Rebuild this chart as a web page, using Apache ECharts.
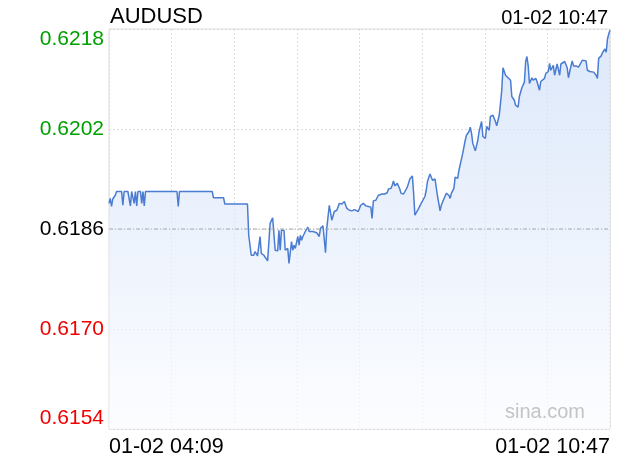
<!DOCTYPE html>
<html>
<head>
<meta charset="utf-8">
<script src="https://cdn.jsdelivr.net/npm/echarts@6/dist/echarts.min.js"></script>
<style>
html,body{margin:0;padding:0;background:#fff;}
#chart{width:620px;height:460px;}
</style>
</head>
<body>
<div id="chart"></div>
<script>
// ---- data ----
const symbolName = 'AUDUSD';
const lastTimeLabel = '01-02 10:47';
const xTickLabels = ['01-02 04:09', '01-02 10:47'];
const sessionMinutes = 398; // 04:09 -> 10:47
const prevClose = 0.6186;
const yMin = 0.6154, yMax = 0.6218, yStep = 0.0016;

// minutes elapsed since 04:09
const minutes = [
0,1,2,3,4,5,6,10,11,12,15,17,18,19,20,21,22,23,25,26,27,28,29,54,55,56,82,83,91,92,
110,111,112,113,115,116,118,119,120,121,123,124,126,127,128,130,131,132,134,135,136,137,139,140,142,143,145,146,147,148,
150,151,152,153,154,156,158,159,160,162,163,165,166,167,168,170,172,173,175,177,179,180,181,183,185,187,188,189,191,193,
195,196,198,200,202,204,206,208,209,210,212,213,214,215,217,219,221,222,224,225,226,227,229,231,232,234,235,237,239,241,
242,243,244,246,248,249,251,252,253,255,257,258,259,261,262,263,264,266,268,270,271,272,274,275,277,278,279,281,283,284,
286,287,288,289,291,293,294,295,296,297,299,300,302,303,304,305,307,308,310,311,312,313,315,317,319,320,322,323,325,326,
328,330,331,332,333,334,336,337,339,340,342,343,344,346,347,349,350,351,353,354,356,358,359,362,364,365,367,368,369,371,
373,374,376,377,379,380,382,383,385,387,388,389,391,392,394,395,396,397,398
];
const prices = [
0.61901,0.61909,0.61896,0.61908,0.61908,0.61914,0.61920,0.61920,0.61898,0.61920,0.61920,0.61897,0.61920,0.61920,0.61901,0.61920,0.61897,0.61920,0.61920,0.61901,0.61920,0.61897,0.61920,0.61920,0.61896,0.61920,0.61920,0.61910,0.61910,0.61900,
0.61900,0.61850,0.61848,0.61818,0.61818,0.61824,0.61817,0.61818,0.61848,0.61821,0.61818,0.61816,0.61809,0.61809,0.61869,0.61878,0.61877,0.61826,0.61825,0.61858,0.61826,0.61858,0.61858,0.61826,0.61829,0.61805,0.61840,0.61826,0.61834,0.61829,
0.61848,0.61834,0.61850,0.61842,0.61848,0.61856,0.61863,0.61856,0.61858,0.61856,0.61857,0.61854,0.61856,0.61848,0.61861,0.61865,0.61822,0.61861,0.61898,0.61874,0.61888,0.61885,0.61890,0.61901,0.61900,0.61904,0.61898,0.61893,0.61890,0.61889,
0.61891,0.61889,0.61888,0.61898,0.61901,0.61897,0.61896,0.61895,0.61877,0.61905,0.61906,0.61904,0.61914,0.61912,0.61916,0.61916,0.61918,0.61924,0.61925,0.61930,0.61937,0.61929,0.61933,0.61924,0.61917,0.61916,0.61918,0.61927,0.61940,0.61945,
0.61917,0.61882,0.61885,0.61893,0.61901,0.61904,0.61912,0.61922,0.61936,0.61948,0.61938,0.61937,0.61940,0.61912,0.61901,0.61889,0.61898,0.61908,0.61917,0.61914,0.61909,0.61917,0.61925,0.61943,0.61941,0.61954,0.61957,0.61981,0.62002,0.62010,
0.62016,0.62023,0.62013,0.61997,0.61985,0.62002,0.62016,0.62018,0.62032,0.62008,0.62005,0.62024,0.62018,0.62040,0.62037,0.62042,0.62032,0.62025,0.62042,0.62061,0.62082,0.62118,0.62106,0.62102,0.62098,0.62072,0.62066,0.62058,0.62055,0.62072,
0.62086,0.62095,0.62128,0.62136,0.62121,0.62093,0.62102,0.62098,0.62101,0.62096,0.62082,0.62096,0.62093,0.62101,0.62109,0.62112,0.62125,0.62114,0.62122,0.62106,0.62124,0.62106,0.62124,0.62128,0.62118,0.62102,0.62121,0.62129,0.62121,0.62121,
0.62119,0.62118,0.62130,0.62131,0.62129,0.62114,0.62112,0.62114,0.62111,0.62106,0.62101,0.62133,0.62137,0.62142,0.62148,0.62143,0.62164,0.62172,0.62178
];

const seriesData = minutes.map((m, i) => [m, prices[i]]);
const prevCloseLine = [[0, prevClose], [sessionMinutes, prevClose]];
const FONT = '"Liberation Sans", Arial, sans-serif';

const chart = echarts.init(document.getElementById('chart'));
chart.setOption({
  animation: false,
  backgroundColor: '#fff',
  textStyle: { fontFamily: FONT },
  title: [
    { text: symbolName, left: 110, top: 6, padding: 0,
      textStyle: { fontSize: 22, fontWeight: 'normal', color: '#000', fontFamily: FONT } },
    { text: lastTimeLabel, right: 12, top: 8, padding: 0,
      textStyle: { fontSize: 20, fontWeight: 'normal', color: '#000', fontFamily: FONT } }
  ],
  graphic: [{
    type: 'text', right: 35, top: 402, silent: true, z: 10,
    style: { text: 'sina.com', fill: '#c4c4c4', font: '20px ' + FONT }
  }],
  grid: { left: 109, right: 10, top: 29, bottom: 31, show: true,
          borderColor: '#dcdcdc', borderWidth: 1, backgroundColor: 'transparent' },
  xAxis: {
    type: 'value', min: 0, max: sessionMinutes, interval: sessionMinutes / 8,
    axisLine: { show: false }, axisTick: { show: false },
    splitLine: { show: true, lineStyle: { color: '#dcdcdc', type: [2, 2], width: 1 } },
    axisLabel: {
      margin: 7, fontSize: 21.5, color: '#000', fontFamily: FONT,
      showMinLabel: true, showMaxLabel: true,
      alignMinLabel: 'left', alignMaxLabel: 'right',
      formatter: v => (Math.abs(v) < 1e-6 ? xTickLabels[0] :
                       (Math.abs(v - sessionMinutes) < 1e-6 ? xTickLabels[1] : ''))
    }
  },
  yAxis: {
    type: 'value', min: yMin, max: yMax, interval: yStep,
    axisLine: { show: false }, axisTick: { show: false },
    splitLine: { show: true, lineStyle: { color: '#dcdcdc', type: [2, 2], width: 1 } },
    axisLabel: {
      margin: 5, fontSize: 21, fontFamily: FONT,
      showMinLabel: true, showMaxLabel: true,
      verticalAlignMinLabel: 'bottom', verticalAlignMaxLabel: 'top',
      formatter: v => v.toFixed(4),
      color: v => {
        const d = Number(v) - prevClose;
        if (d > 1e-7) return '#00a000';
        if (d < -1e-7) return '#f00000';
        return '#000';
      }
    }
  },
  series: [{
    type: 'line', data: seriesData, showSymbol: false, symbol: 'none', z: 3,
    lineStyle: { color: '#4a7cd2', width: 1.5 },
    areaStyle: {
      color: new echarts.graphic.LinearGradient(0, 0, 0, 1, [
        { offset: 0, color: '#cddef8' },
        { offset: 1, color: '#fbfcff' }
      ])
    }
  }, {
    type: 'line', data: prevCloseLine, showSymbol: false, symbol: 'none', silent: true, z: 4,
    lineStyle: { color: '#a8a8a8', type: [4, 2, 1, 2], width: 1 }
  }]
});
</script>
</body>
</html>
